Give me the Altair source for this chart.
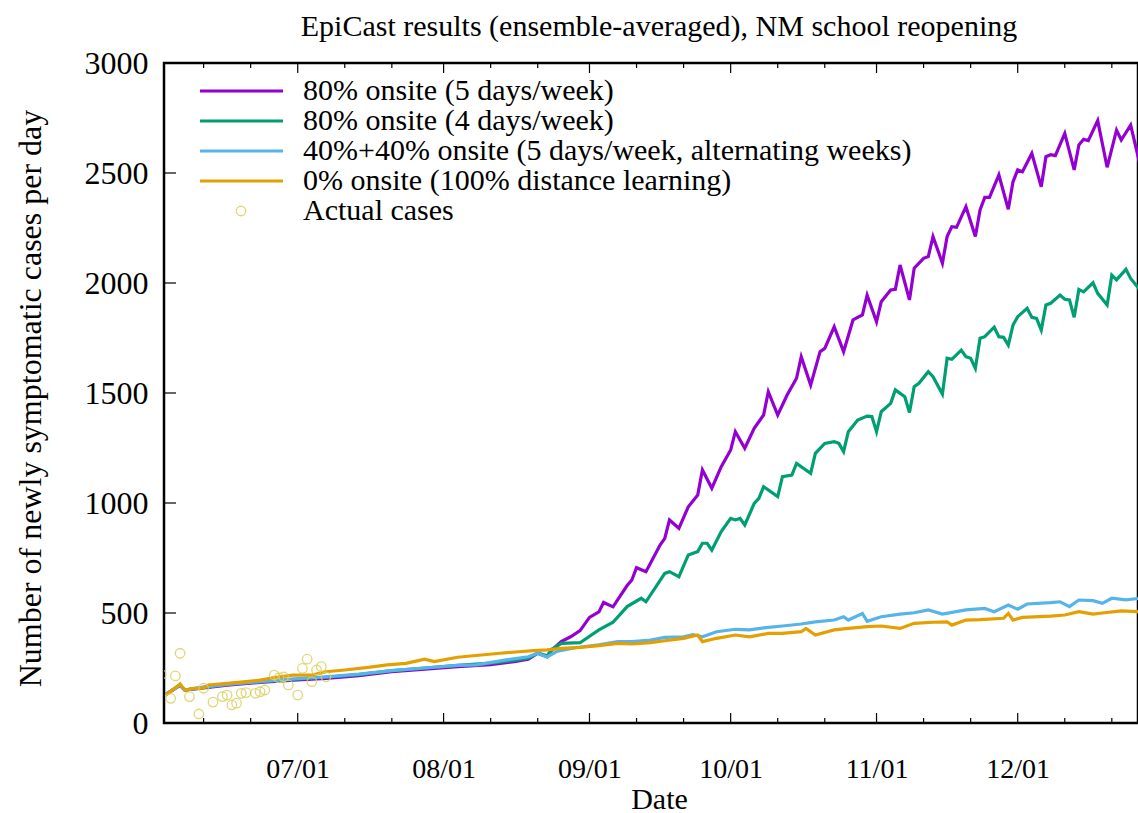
import altair as alt
import pandas as pd

START = pd.Timestamp("2020-06-01")
FONT = "Liberation Serif"

# ---- series data: day offset from 2020-06-01, value ----
purple_days = [2, 5, 6, 10, 15, 22, 29, 36, 43, 50, 57, 64, 71, 76, 79, 81, 83, 84, 86, 88, 90, 92, 94, 95, 97,
               100, 101, 102, 104, 107, 108, 109, 111, 113, 115, 116, 118, 120, 122, 123, 125, 127, 129, 130,
               132, 134, 136, 137, 139, 141, 142, 144, 146, 148, 150, 151, 153, 154, 156, 157, 158, 160, 161,
               163, 164, 165, 167, 168, 169, 170, 172, 174, 175, 176, 177, 179, 181, 182, 183, 184, 186, 188,
               189, 190, 191, 193, 195, 196, 197, 198, 200, 202, 204, 205, 207, 209]
purple_vals = [130, 172, 150, 160, 172, 185, 195, 203, 215, 233, 245, 256, 265, 279, 290, 317, 301, 332, 370, 392,
               420, 480, 505, 548, 528, 625, 650, 706, 688, 809, 839, 923, 885, 983, 1036, 1150, 1067, 1165, 1241,
               1324, 1249, 1339, 1400, 1506, 1400, 1491, 1567, 1665, 1536, 1688, 1703, 1801, 1688, 1832, 1855,
               1945, 1824, 1915, 1968, 1971, 2082, 1923, 2067, 2112, 2120, 2211, 2090, 2211, 2256, 2253, 2347,
               2211, 2332, 2389, 2389, 2491, 2335, 2460, 2514, 2506, 2589, 2437, 2574, 2583, 2579, 2680, 2514,
               2627, 2653, 2647, 2738, 2526, 2695, 2650, 2718, 2536]

green_days = [2, 5, 6, 10, 15, 22, 29, 36, 43, 50, 57, 64, 71, 76, 79, 81, 83, 84, 86, 90, 94, 97, 100, 103, 104,
              108, 109, 111, 113, 115, 116, 117, 118, 120, 122, 123, 124, 125, 127, 128, 129, 132, 133, 135, 136,
              139, 140, 142, 144, 145, 146, 147, 149, 151, 152, 153, 154, 156, 157, 159, 160, 161, 162, 164, 165,
              167, 168, 169, 171, 172, 173, 174, 175, 176, 178, 179, 180, 181, 182, 183, 185, 186, 187, 188, 189,
              190, 192, 193, 194, 195, 196, 197, 199, 200, 202, 203, 204, 206, 207, 209]
green_vals = [130, 172, 150, 162, 175, 188, 198, 208, 220, 238, 250, 262, 272, 284, 295, 318, 305, 335, 362, 365,
              423, 458, 529, 567, 551, 680, 688, 665, 764, 779, 817, 817, 786, 870, 930, 923, 930, 900, 998, 1021,
              1074, 1029, 1120, 1127, 1180, 1135, 1226, 1271, 1279, 1271, 1233, 1324, 1377, 1395, 1393, 1324,
              1415, 1453, 1514, 1483, 1411, 1529, 1544, 1597, 1574, 1495, 1658, 1653, 1695, 1665, 1658, 1612,
              1749, 1756, 1799, 1756, 1753, 1718, 1809, 1847, 1885, 1844, 1839, 1786, 1900, 1908, 1945, 1926,
              1923, 1844, 1971, 1960, 2001, 1953, 1900, 2036, 2014, 2062, 2021, 1968]

blue_days = [2, 5, 6, 10, 15, 22, 29, 36, 43, 50, 57, 64, 68, 74, 79, 81, 83, 85, 89, 94, 98, 101, 105, 108, 112,
             114, 116, 119, 123, 126, 130, 133, 137, 140, 144, 146, 147, 150, 151, 154, 158, 161, 164, 167, 172,
             176, 178, 181, 183, 185, 190, 192, 194, 196, 199, 201, 203, 206, 209]
blue_vals = [130, 172, 150, 163, 175, 188, 200, 210, 222, 238, 250, 262, 264, 286, 301, 317, 300, 325, 342, 355,
             370, 370, 377, 389, 392, 402, 392, 415, 426, 423, 435, 441, 450, 460, 468, 483, 468, 498, 462, 483,
             495, 501, 514, 495, 514, 521, 506, 536, 517, 541, 547, 551, 529, 559, 556, 544, 567, 560, 567]

orange_days = [2, 5, 6, 8, 10, 11, 15, 19, 22, 25, 29, 33, 36, 40, 45, 49, 53, 57, 59, 64, 69, 73, 77, 80, 83, 86,
               90, 94, 98, 101, 105, 108, 112, 115, 116, 119, 123, 126, 130, 133, 137, 138, 140, 144, 147, 151,
               154, 158, 161, 165, 168, 169, 172, 175, 180, 181, 182, 184, 190, 193, 196, 199, 201, 205, 209]
orange_vals = [127, 177, 150, 158, 158, 173, 180, 188, 195, 207, 218, 218, 233, 241, 253, 264, 271, 290, 279, 299,
               309, 317, 324, 329, 332, 339, 344, 352, 362, 359, 365, 374, 385, 400, 370, 385, 400, 392, 407, 407,
               415, 430, 400, 423, 430, 438, 441, 430, 453, 458, 460, 445, 468, 470, 476, 498, 468, 480, 486, 491,
               506, 495, 500, 510, 506]

actual_days = [1, 3, 4, 5, 7, 9, 10, 12, 14, 15, 16, 17, 18, 19, 21, 22, 23, 25, 26, 27, 28, 30, 31, 32, 33, 34, 35, 36]
actual_vals = [221, 112, 214, 317, 120, 41, 158, 95, 120, 127, 82, 90, 135, 138, 135, 142, 150, 218, 205, 210, 173,
               127, 248, 290, 188, 241, 256, 210]

series_names = ["80% onsite (5 days/week)", "80% onsite (4 days/week)",
                "40%+40% onsite (5 days/week, alternating weeks)", "0% onsite (100% distance learning)"]
series_colors = ["#9400d3", "#009e73", "#56b4e9", "#e69f00"]
actual_name = "Actual cases"
actual_color = "#dcd060"

y_ticks = [0, 500, 1000, 1500, 2000, 2500, 3000]
major_tick_dates = ["2020-07-01", "2020-08-01", "2020-09-01", "2020-10-01", "2020-11-01", "2020-12-01"]
minor_tick_dates = ["2020-06-11", "2020-06-21", "2020-07-11", "2020-07-21", "2020-08-11", "2020-08-21",
                    "2020-09-11", "2020-09-21", "2020-10-11", "2020-10-21", "2020-11-11", "2020-11-21",
                    "2020-12-11", "2020-12-21"]
title_text = "EpiCast results (ensemble-averaged), NM school reopening"


def iso(ts):
    return ts.strftime("%Y-%m-%dT%H:%M:%S")


def frame(days, vals):
    return pd.DataFrame({"date": [iso(START + pd.Timedelta(days=d)) for d in days], "value": vals})


W, H = 974, 660

x_enc = alt.X(
    "date:T",
    scale=alt.Scale(domain=[alt.DateTime(year=2020, month=6, date=2, hours=14),
                            alt.DateTime(year=2020, month=12, date=26, hours=13, minutes=30)]),
    axis=alt.Axis(
        values=[alt.DateTime(year=2020, month=m, date=1) for m in range(7, 13)],
        format="%m/%d", labelFont=FONT, labelFontSize=28, labelColor="black",
        labelPadding=32, labelOverlap=False, labelFlush=False,
        ticks=False, tickSize=0, domain=False, grid=False,
        title="Date", titleFont=FONT, titleFontSize=30, titleFontWeight="normal", titleColor="black",
        titleX=495, titleY=76, titleBaseline="middle", titleAlign="center",
    ),
)
y_enc = alt.Y(
    "value:Q",
    scale=alt.Scale(domain=[0, 3000], nice=False),
    axis=alt.Axis(
        values=y_ticks, format="d", labelFont=FONT, labelFontSize=32, labelColor="black", labelPadding=16,
        ticks=False, tickSize=0, domain=False, grid=False,
        title="Number of newly symptomatic cases per day", titleFont=FONT, titleFontSize=32,
        titleFontWeight="normal", titleColor="black", titleX=-134, titleY=335, titleAngle=270,
        titleAlign="center", titleBaseline="middle",
    ),
)

layers = []

for days, vals, col in [(purple_days, purple_vals, series_colors[0]),
                        (green_days, green_vals, series_colors[1]),
                        (blue_days, blue_vals, series_colors[2]),
                        (orange_days, orange_vals, series_colors[3])]:
    layers.append(alt.Chart(frame(days, vals)).mark_line(color=col, strokeWidth=3.2, clip=True)
                  .encode(x=x_enc, y=y_enc))

layers.append(alt.Chart(frame(actual_days, actual_vals)).mark_point(
    shape="circle", filled=False, size=90, strokeWidth=1.3, color=actual_color, opacity=0.85, clip=True)
    .encode(x=x_enc, y=y_enc))

# tick marks (inward, gnuplot style)
major_df = pd.DataFrame({"date": [d + "T00:00:00" for d in major_tick_dates]})
minor_df = pd.DataFrame({"date": [d + "T00:00:00" for d in minor_tick_dates]})
for df, ln in [(major_df, 10), (minor_df, 5)]:
    layers.append(alt.Chart(df).mark_rule(color="black", strokeWidth=1.2)
                  .encode(x=x_enc, y=alt.value(H), y2=alt.value(H - ln)))
    layers.append(alt.Chart(df).mark_rule(color="black", strokeWidth=1.2)
                  .encode(x=x_enc, y=alt.value(0), y2=alt.value(ln)))
ydf = pd.DataFrame({"value": y_ticks})
layers.append(alt.Chart(ydf).mark_rule(color="black", strokeWidth=1.2)
              .encode(y=y_enc, x=alt.value(0), x2=alt.value(12)))

# legend (top-left, inside plot)
legend_df = pd.DataFrame({"label": series_names + [actual_name]})
row_y = [28, 58, 88, 118, 148]
for i, name in enumerate(series_names):
    sub = legend_df.iloc[[i]]
    layers.append(alt.Chart(sub).mark_rule(color=series_colors[i], strokeWidth=3)
                  .encode(x=alt.value(36), x2=alt.value(119), y=alt.value(row_y[i])))
    layers.append(alt.Chart(sub).mark_text(align="left", baseline="middle", font=FONT, fontSize=30, color="black")
                  .encode(text="label:N", x=alt.value(139), y=alt.value(row_y[i])))
sub = legend_df.iloc[[4]]
layers.append(alt.Chart(sub).mark_point(shape="circle", filled=False, size=90, strokeWidth=1.3,
                                        color=actual_color, opacity=0.85)
              .encode(x=alt.value(77), y=alt.value(row_y[4])))
layers.append(alt.Chart(sub).mark_text(align="left", baseline="middle", font=FONT, fontSize=30, color="black")
              .encode(text="label:N", x=alt.value(139), y=alt.value(row_y[4])))

chart = alt.layer(*layers).properties(
    width=W, height=H,
    title=alt.TitleParams(title_text, font=FONT, fontSize=30, fontWeight="normal", color="black",
                          anchor="middle", frame="group", offset=5, dx=8),
    padding={"left": 164, "top": 63, "right": 0, "bottom": 90},
    autosize=alt.AutoSizeParams(type="none"),
    background="white",
).configure_view(stroke="black", strokeWidth=2.5)

chart.save("out.html", embed_options={"renderer": "svg", "actions": False})
